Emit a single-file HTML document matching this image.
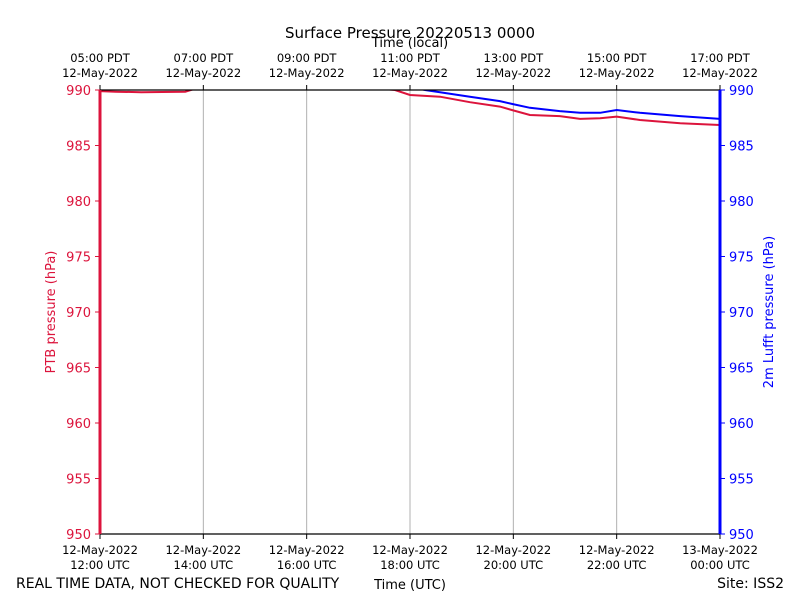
<!DOCTYPE html>
<html><head><meta charset="utf-8"><style>
body{margin:0;background:#fff;}
text{font-family:"DejaVu Sans","Liberation Sans",sans-serif;}
</style></head><body>
<svg id="c" width="800" height="600" xmlns="http://www.w3.org/2000/svg">
<defs><clipPath id="clip"><rect x="100" y="90" width="620" height="444"/></clipPath></defs>
<text x="410" y="38" font-size="15" text-anchor="middle">Surface Pressure 20220513 0000</text>
<text x="410" y="47" font-size="13" text-anchor="middle">Time (local)</text>
<text x="410" y="589" font-size="13" text-anchor="middle">Time (UTC)</text>
<text x="16" y="588" font-size="14">REAL TIME DATA, NOT CHECKED FOR QUALITY</text>
<text x="784" y="588" font-size="14" text-anchor="end">Site: ISS2</text>
<text transform="translate(55,312) rotate(-90)" font-size="13" fill="#dc143c" text-anchor="middle">PTB pressure (hPa)</text>
<text transform="translate(773,312) rotate(-90)" font-size="13" fill="#0000ff" text-anchor="middle">2m Lufft pressure (hPa)</text>
<g id="grid"></g><g id="ticks"></g><g id="lines" clip-path="url(#clip)"></g>
<line x1="100" y1="90" x2="720" y2="90" stroke="#000" stroke-width="1.2"/>
<line x1="100" y1="534" x2="720" y2="534" stroke="#000" stroke-width="1.2"/>
<line x1="100" y1="90" x2="100" y2="534" stroke="#dc143c" stroke-width="3"/>
<line x1="720" y1="90" x2="720" y2="534" stroke="#0000ff" stroke-width="3"/>
</svg>
<script>
const yTicks=[950,955,960,965,970,975,980,985,990];
const xTicks=[0,2,4,6,8,10,12];
const utcLabels=["12:00 UTC","14:00 UTC","16:00 UTC","18:00 UTC","20:00 UTC","22:00 UTC","00:00 UTC"];
const utcDates=["12-May-2022","12-May-2022","12-May-2022","12-May-2022","12-May-2022","12-May-2022","13-May-2022"];
const localLabels=["05:00 PDT","07:00 PDT","09:00 PDT","11:00 PDT","13:00 PDT","15:00 PDT","17:00 PDT"];
const redT=[0,0.3,0.8,1.2,1.65,1.9,3,5.0,5.71,6.0,6.58,7.16,7.74,7.97,8.32,8.9,9.29,9.68,10.0,10.45,11.23,12];
const redV=[989.9,989.85,989.8,989.82,989.85,990.2,990.5,990.3,990.0,989.55,989.4,988.9,988.5,988.2,987.75,987.65,987.4,987.45,987.6,987.3,987.0,986.85];
const blueT=[0,3,6.0,6.29,6.58,7.16,7.74,7.97,8.32,8.9,9.29,9.68,10.0,10.45,11.23,12];
const blueV=[990.6,990.6,990.3,990.0,989.8,989.4,989.0,988.75,988.4,988.1,987.95,987.95,988.2,987.95,987.65,987.4];
const ns="http://www.w3.org/2000/svg";
const X=t=>100+t*620/12, Y=v=>534-(v-950)*444/40;
function mk(tag,attrs,parent,text){const e=document.createElementNS(ns,tag);for(const k in attrs)e.setAttribute(k,attrs[k]);if(text!==undefined)e.textContent=text;document.getElementById(parent).appendChild(e);return e;}
xTicks.forEach((t,i)=>{
 const x=X(t);
 if(i>0&&i<xTicks.length-1){const g=mk('line',{x1:x,y1:90,x2:x,y2:534,stroke:'#b0b0b0','stroke-width':1},'grid');
 
 }
 mk('line',{x1:x,y1:534,x2:x,y2:539,stroke:'#000'},'ticks');
 mk('line',{x1:x,y1:85,x2:x,y2:90,stroke:'#000'},'ticks');
 const a=mk('text',{x:x,y:554,'font-size':11.5,'text-anchor':'middle'},'ticks',utcDates[i]);
 
 
 const b=mk('text',{x:x,y:569,'font-size':11.5,'text-anchor':'middle'},'ticks',utcLabels[i]);
 
 
 const c=mk('text',{x:x,y:62,'font-size':11.5,'text-anchor':'middle'},'ticks',localLabels[i]);
 
 
 const d=mk('text',{x:x,y:77,'font-size':11.5,'text-anchor':'middle'},'ticks','12-May-2022');
 
 
});
yTicks.forEach(v=>{
 const y=Y(v);
 mk('line',{x1:95,y1:y,x2:100,y2:y,stroke:'#dc143c'},'ticks');
 mk('line',{x1:720,y1:y,x2:725,y2:y,stroke:'#0000ff'},'ticks');
 const l=mk('text',{x:91,y:y+5,'font-size':13,'text-anchor':'end',fill:'#dc143c'},'ticks',v);
 
 
 const r=mk('text',{x:729,y:y+5,'font-size':13,fill:'#0000ff'},'ticks',v);
 
 
});
function path(T,V){return T.map((t,i)=>(i?'L':'M')+X(t).toFixed(1)+','+Y(V[i]).toFixed(1)).join(' ');}
const rl=mk('path',{d:path(redT,redV),fill:'none',stroke:'#dc143c','stroke-width':2},'lines');


const bl=mk('path',{d:path(blueT,blueV),fill:'none',stroke:'#0000ff','stroke-width':2},'lines');


</script>
</body></html>
